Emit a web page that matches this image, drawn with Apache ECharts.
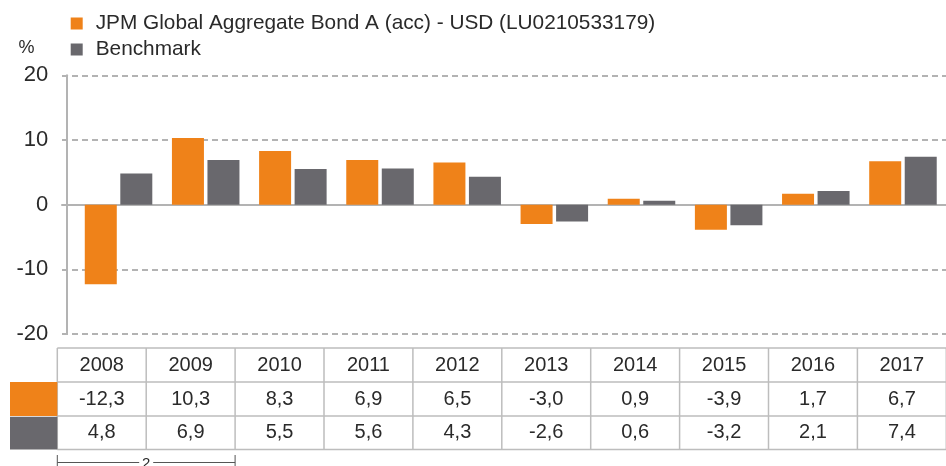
<!DOCTYPE html>
<html>
<head>
<meta charset="utf-8">
<script src="https://cdn.jsdelivr.net/npm/echarts@6/dist/echarts.min.js"></script>
<style>
html,body{margin:0;padding:0;background:#fff;}
#chart{width:946px;height:466px;}
</style>
</head>
<body>
<div id="chart"></div>
<script>
// ---- data ----
var years = ['2008','2009','2010','2011','2012','2013','2014','2015','2016','2017'];
var fundName = 'JPM Global Aggregate Bond A (acc) - USD (LU0210533179)';
var benchName = 'Benchmark';
var fundValues = [-12.3, 10.3, 8.3, 6.9, 6.5, -3.0, 0.9, -3.9, 1.7, 6.7];
var benchValues = [4.8, 6.9, 5.5, 5.6, 4.3, -2.6, 0.6, -3.2, 2.1, 7.4];
var yTicks = [-20, -10, 0, 10, 20];
var bracketLabel = '2';

// ---- styles ----
var ORANGE = '#EF8219';
var GREY = '#69686D';
var FONT = 'Liberation Sans, Arial, sans-serif';
var TXT = '#2a2a2a';
var BORDER = '#bdbdbd';

var chart = echarts.init(document.getElementById('chart'), null, {renderer: 'canvas'});

function fmt(v){ return v.toFixed(1).replace('.', ','); }

// table geometry
var tx0 = 57.3, colW = 88.9, rowY = [348, 382, 416, 449.5];
var graphics = [];
rowY.forEach(function(y){
  graphics.push({type:'line', shape:{x1:tx0, y1:y, x2:946, y2:y}, style:{stroke:BORDER, lineWidth:1.5}, silent:true});
});
for (var c = 0; c <= years.length; c++) {
  var x = tx0 + c * colW;
  graphics.push({type:'line', shape:{x1:x, y1:rowY[0], x2:x, y2:rowY[3]}, style:{stroke:BORDER, lineWidth:1.5}, silent:true});
}
graphics.push({type:'rect', shape:{x:10, y:rowY[1], width:tx0-10, height:rowY[2]-rowY[1]}, style:{fill:ORANGE}, silent:true});
graphics.push({type:'rect', shape:{x:10, y:rowY[2]+0.8, width:tx0-10, height:rowY[3]-rowY[2]-0.8}, style:{fill:GREY}, silent:true});
var rows = [years, fundValues.map(fmt), benchValues.map(fmt)];
rows.forEach(function(row, r){
  var cy = (rowY[r] + rowY[r+1]) / 2;
  row.forEach(function(t, i){
    graphics.push({type:'text', x: tx0 + (i + 0.5) * colW, y: cy,
      style:{text:t, fill:TXT, font:'20px ' + FONT, textAlign:'center', textVerticalAlign:'middle'}, silent:true});
  });
});
var by = 462.5, bx1 = tx0, bx2 = tx0 + 2 * colW, bmid = (bx1 + bx2) / 2;
graphics.push({type:'line', shape:{x1:bx1, y1:by, x2:bmid-7, y2:by}, style:{stroke:'#555', lineWidth:1}, silent:true});
graphics.push({type:'line', shape:{x1:bmid+7, y1:by, x2:bx2, y2:by}, style:{stroke:'#555', lineWidth:1}, silent:true});
graphics.push({type:'line', shape:{x1:bx1, y1:455, x2:bx1, y2:466}, style:{stroke:'#555', lineWidth:1}, silent:true});
graphics.push({type:'line', shape:{x1:bx2, y1:455, x2:bx2, y2:466}, style:{stroke:'#555', lineWidth:1}, silent:true});
graphics.push({type:'text', x:bmid, y:456, style:{text:bracketLabel, fill:TXT, font:'15px ' + FONT, textAlign:'center', textVerticalAlign:'top'}, silent:true});
graphics.push({type:'text', x:26.5, y:48, style:{text:'%', fill:TXT, font:'18px ' + FONT, textAlign:'center', textVerticalAlign:'middle'}, silent:true});

var option = {
  animation: false,
  backgroundColor: '#fff',
  textStyle: {fontFamily: FONT},
  legend: {
    orient: 'vertical',
    left: 70.7, top: 13,
    padding: 0,
    itemGap: 5,
    itemWidth: 12, itemHeight: 12,
    icon: 'rect',
    selectedMode: false,
    textStyle: {fontSize: 20.8, lineHeight: 20, color: TXT, fontFamily: FONT, padding: [0,0,0,8]},
    data: [fundName, benchName]
  },
  grid: {left: 62, right: 0, top: 75.3, bottom: 132, containLabel: false},
  xAxis: {
    type: 'value',
    min: -0.6487, max: 9.4937,
    axisLine: {show: true, onZero: true, lineStyle: {color: '#b3b3b3', width: 2}},
    axisTick: {show: false},
    axisLabel: {show: false},
    splitLine: {show: false}
  },
  yAxis: {
    type: 'value',
    min: yTicks[0], max: yTicks[yTicks.length - 1], interval: 10,
    offset: -4.7,
    axisLine: {show: true, onZero: false, lineStyle: {color: '#b3b3b3', width: 2}},
    axisTick: {show: false},
    axisLabel: {fontSize: 22, color: TXT, margin: 18.4, fontFamily: FONT},
    splitLine: {show: true, lineStyle: {color: '#9a9a9a', width: 1.5, type: [6, 4]}}
  },
  series: [
    {name: fundName, type: 'bar', barWidth: 32, barGap: '11%', itemStyle: {color: ORANGE},
     data: fundValues.map(function(v, i){ return [i, v]; }), z: 3},
    {name: benchName, type: 'bar', barWidth: 32, barGap: '11%', itemStyle: {color: GREY},
     data: benchValues.map(function(v, i){ return [i, v]; }), z: 3}
  ],
  graphic: graphics
};
chart.setOption(option);
</script>
</body>
</html>
